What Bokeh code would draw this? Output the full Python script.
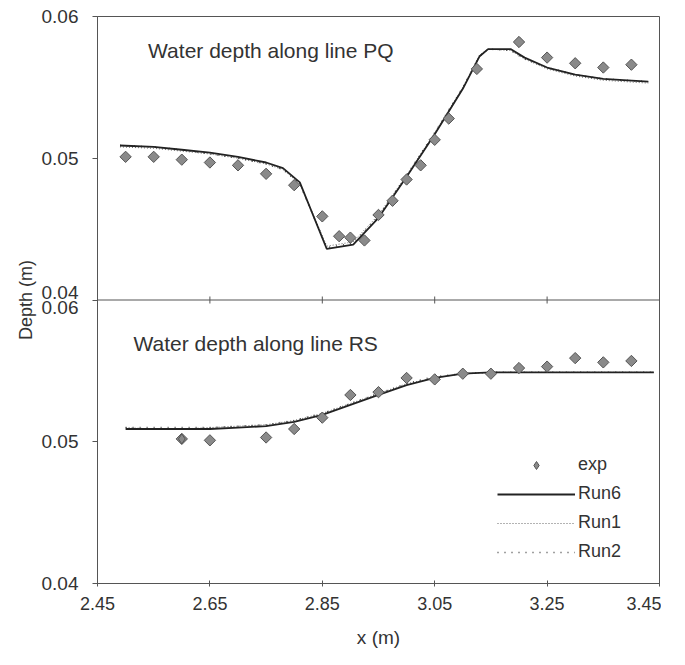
import numpy as np
from bokeh.plotting import figure
from bokeh.models import Range1d, FixedTicker, Span, Label, Legend, LegendItem
from bokeh.embed import file_html
from bokeh.resources import INLINE

# ---- data: line PQ (upper panel) ----
pq_exp_x = [2.50, 2.55, 2.60, 2.65, 2.70, 2.75, 2.80, 2.85, 2.88, 2.90, 2.925, 2.95, 2.975,
            3.00, 3.025, 3.05, 3.075, 3.125, 3.20, 3.25, 3.30, 3.35, 3.40]
pq_exp_y = [0.0501, 0.0501, 0.0499, 0.0497, 0.0495, 0.0489, 0.0481, 0.0459, 0.0445, 0.0444, 0.0442,
            0.0460, 0.0470, 0.0485, 0.0495, 0.0513, 0.0528, 0.0563, 0.0582, 0.0571, 0.0567, 0.0564, 0.0566]
pq_run_x = [2.49, 2.55, 2.60, 2.65, 2.70, 2.75, 2.78, 2.81, 2.858, 2.905, 2.95, 3.00, 3.05, 3.10,
            3.13, 3.145, 3.185, 3.21, 3.25, 3.30, 3.35, 3.43]
pq_run6_y = [0.0509, 0.0508, 0.0506, 0.0504, 0.0501, 0.0497, 0.0493, 0.0483, 0.0436, 0.0439, 0.0458,
             0.0487, 0.0517, 0.0549, 0.0572, 0.0577, 0.0577, 0.0571, 0.0564, 0.0559, 0.0556, 0.0554]
pq_run1_y = [0.0508, 0.0507, 0.0505, 0.0503, 0.0500, 0.0496, 0.0492, 0.0482, 0.0438, 0.0441, 0.0460,
             0.0488, 0.0518, 0.0550, 0.0573, 0.0577, 0.0576, 0.0570, 0.0563, 0.0558, 0.0555, 0.0553]
pq_run2_y = [0.0509, 0.0508, 0.0506, 0.0503, 0.0500, 0.0496, 0.0492, 0.0482, 0.0437, 0.0440, 0.0459,
             0.0488, 0.0518, 0.0550, 0.0572, 0.0577, 0.0576, 0.0570, 0.0564, 0.0559, 0.0556, 0.0554]

# ---- data: line RS (lower panel) ----
rs_exp_x = [2.60, 2.65, 2.75, 2.80, 2.85, 2.90, 2.95, 3.00, 3.05, 3.10, 3.15, 3.20, 3.25, 3.30, 3.35, 3.40]
rs_exp_y = [0.0502, 0.0501, 0.0503, 0.0509, 0.0517, 0.0533, 0.0535, 0.0545, 0.0544, 0.0548, 0.0548,
            0.0552, 0.0553, 0.0559, 0.0556, 0.0557]
rs_run_x = [2.50, 2.55, 2.60, 2.65, 2.70, 2.75, 2.80, 2.85, 2.90, 2.95, 3.00, 3.05, 3.10, 3.15,
            3.20, 3.25, 3.30, 3.35, 3.40, 3.44]
rs_run6_y = [0.0509, 0.0509, 0.0509, 0.0509, 0.0510, 0.0511, 0.0514, 0.0519, 0.0526, 0.0533, 0.0540,
             0.0545, 0.0548, 0.0549, 0.0549, 0.0549, 0.0549, 0.0549, 0.0549, 0.0549]
rs_run1_y = [0.0510, 0.0509, 0.0509, 0.0510, 0.0511, 0.0512, 0.0515, 0.0520, 0.0527, 0.0534, 0.0541,
             0.0545, 0.0548, 0.0549, 0.0549, 0.0549, 0.0549, 0.0549, 0.0549, 0.0549]
rs_run2_y = [0.0510, 0.0510, 0.0510, 0.0510, 0.0511, 0.0512, 0.0515, 0.0520, 0.0527, 0.0534, 0.0541,
             0.0546, 0.0548, 0.0549, 0.0549, 0.0549, 0.0549, 0.0549, 0.0549, 0.0549]

# ---- ticks ----
x_ticks = [2.45, 2.65, 2.85, 3.05, 3.25, 3.45]
x_tick_labels = ["2.45", "2.65", "2.85", "3.05", "3.25", "3.45"]
y_ticks = [0.04, 0.05, 0.06, 0.07, 0.08]
y_tick_labels = ["0.04", "0.05", "0.04\n0.06", "0.05", "0.06"]
divider = 0.06

FONT = "Liberation Sans"
TXT = "#333333"
AX = "#555555"

p = figure(frame_width=562, frame_height=567,
           min_border_left=97, min_border_right=2, min_border_top=16, min_border_bottom=70,
           x_range=Range1d(2.45, 3.45), y_range=Range1d(0.04, 0.08),
           output_backend="svg", toolbar_location=None)
p.extra_y_ranges = {"pq": Range1d(0.02, 0.06)}
p.grid.visible = False
p.outline_line_color = AX
p.outline_line_width = 1
p.background_fill_color = "white"
p.border_fill_color = "white"

# axes
p.xaxis.ticker = FixedTicker(ticks=x_ticks)
p.xaxis.major_label_overrides = dict(zip(x_ticks, x_tick_labels))
p.yaxis.ticker = FixedTicker(ticks=y_ticks)
p.yaxis.major_label_overrides = dict(zip(y_ticks, y_tick_labels))
for ax in (p.xaxis, p.yaxis):
    ax.axis_line_color = AX
    ax.major_tick_line_color = AX
    ax.minor_tick_line_color = None
    ax.major_label_text_font = FONT
    ax.major_label_text_font_size = "18px"
    ax.major_label_text_color = TXT
    ax.axis_label_text_font = FONT
    ax.axis_label_text_font_size = "19px"
    ax.axis_label_text_font_style = "normal"
    ax.axis_label_text_color = TXT
p.xaxis.major_tick_in = 3
p.xaxis.major_tick_out = 3
p.yaxis.major_tick_in = 0
p.yaxis.major_tick_out = 5
p.xaxis.major_label_standoff = 10
p.xaxis.axis_label = "x (m)"
p.xaxis.axis_label_standoff = 14
p.yaxis.axis_label = "Depth (m)"
p.yaxis.axis_label_standoff = 3
p.yaxis.major_label_standoff = 14
p.yaxis.major_label_text_font_size = "19px"
p.yaxis.major_label_text_line_height = 0.72
p.yaxis.axis_label_text_font_size = "18px"

# divider between panels with its tick marks
p.add_layout(Span(location=divider, dimension="width", line_color=AX, line_width=1))
p.scatter(x_ticks[1:-1], [divider] * (len(x_ticks) - 2), marker="dash", angle=np.pi / 2,
          size=7, line_color=AX)

MK = dict(marker="square", angle=np.pi / 4, size=8, fill_color="#8a8a8a",
          line_color="#555555", line_width=1)

# upper panel (PQ)
p.line(pq_run_x, pq_run1_y, y_range_name="pq", line_color="#666666", line_width=1, line_dash="1 2")
p.line(pq_run_x, pq_run2_y, y_range_name="pq", line_color="#444444", line_width=1.5, line_dash="1 6")
p.line(pq_run_x, pq_run6_y, y_range_name="pq", line_color="#222222", line_width=1.8)
p.scatter(pq_exp_x, pq_exp_y, y_range_name="pq", **MK)

# lower panel (RS)
r1 = p.line(rs_run_x, rs_run1_y, line_color="#666666", line_width=1, line_dash="1 2")
r2 = p.line(rs_run_x, rs_run2_y, line_color="#444444", line_width=1.5, line_dash="1 6")
r6 = p.line(rs_run_x, rs_run6_y, line_color="#222222", line_width=1.8)
p.scatter(rs_exp_x, rs_exp_y, **MK)
# legend swatch for the experimental points: a small diamond hidden inside the first exp marker
re = p.scatter(rs_exp_x[:1], rs_exp_y[:1], marker="diamond", size=10,
               fill_color="#8a8a8a", line_color="#555555", line_width=1)

# panel titles
p.add_layout(Label(x=2.540, y=0.0576, y_range_name="pq", text="Water depth along line PQ",
                   text_font=FONT, text_font_size="21px", text_color=TXT, text_baseline="middle"))
p.add_layout(Label(x=2.514, y=0.0569, text="Water depth along line RS",
                   text_font=FONT, text_font_size="21px", text_color=TXT, text_baseline="middle"))

legend = Legend(items=[LegendItem(label="exp", renderers=[re]),
                       LegendItem(label="Run6", renderers=[r6]),
                       LegendItem(label="Run1", renderers=[r1]),
                       LegendItem(label="Run2", renderers=[r2])],
                location=(400, 21), padding=0, margin=0, spacing=8,
                glyph_width=78, glyph_height=20, label_height=20, label_standoff=3,
                label_text_font=FONT, label_text_font_size="18px", label_text_color=TXT,
                border_line_alpha=0, background_fill_alpha=0)
p.add_layout(legend)

open("out.html", "w").write(file_html(p, INLINE))
